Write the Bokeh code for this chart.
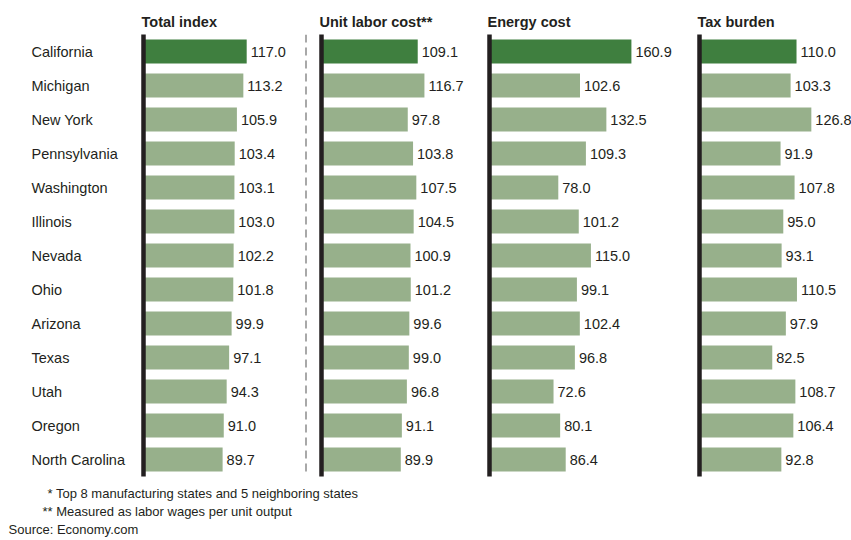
from bokeh.plotting import figure
from bokeh.models import Range1d, FactorRange, ColumnDataSource, Span
from bokeh.layouts import row, column
from bokeh.core.properties import value
from bokeh.embed import file_html
from bokeh.resources import INLINE

# ---------------- data ----------------
states = ["California", "Michigan", "New York", "Pennsylvania", "Washington",
          "Illinois", "Nevada", "Ohio", "Arizona", "Texas", "Utah", "Oregon",
          "North Carolina"]
total_index = [117.0, 113.2, 105.9, 103.4, 103.1, 103.0, 102.2, 101.8, 99.9, 97.1, 94.3, 91.0, 89.7]
unit_labor_cost = [109.1, 116.7, 97.8, 103.8, 107.5, 104.5, 100.9, 101.2, 99.6, 99.0, 96.8, 91.1, 89.9]
energy_cost = [160.9, 102.6, 132.5, 109.3, 78.0, 101.2, 115.0, 99.1, 102.4, 96.8, 72.6, 80.1, 86.4]
tax_burden = [110.0, 103.3, 126.8, 91.9, 107.8, 95.0, 93.1, 110.5, 97.9, 82.5, 108.7, 106.4, 92.8]
panel_titles = ["Total index", "Unit labor cost**", "Energy cost", "Tax burden"]
highlight_state = "California"
footnotes = ["* Top 8 manufacturing states and 5 neighboring states",
             "** Measured as labor wages per unit output",
             "Source: Economy.com"]

# ---------------- style / layout ----------------
FONT = "Liberation Sans"
INK = "#231f20"
DARK = "#3f7f3f"
LIGHT = "#97b08b"
PX_PER_UNIT = 0.882
TOP, ROW_H, BOTTOM = 34, 34, 4
PANEL_H = TOP + ROW_H * len(states) + BOTTOM
PAD_L = 10          # pixels of frame to the left of each panel's baseline
LABEL_W = 133
LABEL_INDENT = 31
SEP_W = 11
PANEL_W = [167, 168, 210, 162]

y_range = FactorRange(factors=list(reversed(states)), range_padding=0)


def base(width, height, x_range, yr, **kw):
    p = figure(width=width, height=height, x_range=x_range, y_range=yr,
               output_backend="svg", toolbar_location=None,
               x_axis_location=None, y_axis_location=None, **kw)
    p.grid.visible = False
    p.outline_line_color = None
    p.background_fill_color = "white"
    p.border_fill_color = "white"
    return p


# state names column
lab = base(LABEL_W, PANEL_H, Range1d(-LABEL_INDENT, LABEL_W - LABEL_INDENT), y_range,
           min_border_left=0, min_border_right=0,
           min_border_top=TOP, min_border_bottom=BOTTOM)
lab.text(x=0, y=states, text=states, text_align="left", text_baseline="middle",
         text_font=value(FONT), text_font_size="14.5px", text_color=INK)


def make_panel(title, vals, width):
    x0 = -PAD_L / PX_PER_UNIT
    p = base(width, PANEL_H, Range1d(x0, x0 + width / PX_PER_UNIT), y_range,
             min_border_left=0, min_border_right=0,
             min_border_top=TOP, min_border_bottom=BOTTOM, title=title)
    src = ColumnDataSource(dict(
        state=states, val=vals, label=[f"{v:.1f}" for v in vals],
        color=[DARK if s == highlight_state else LIGHT for s in states]))
    p.hbar(y="state", left=0, right="val", height=0.706, fill_color="color",
           line_color=None, source=src)
    p.text(x="val", y="state", text="label", x_offset=4, text_align="left",
           text_baseline="middle", text_font=value(FONT), text_font_size="14.5px",
           text_color=INK, source=src)
    p.add_layout(Span(location=0, dimension="height", line_color=INK,
                      line_width=4.5, line_cap="round"))
    p.title.text_font = FONT
    p.title.text_font_size = "14.5px"
    p.title.text_font_style = "bold"
    p.title.text_color = INK
    p.title.align = "left"
    p.title.offset = PAD_L - 2
    p.title.standoff = 10
    return p


p1 = make_panel(panel_titles[0], total_index, PANEL_W[0])
p2 = make_panel(panel_titles[1], unit_labor_cost, PANEL_W[1])
p3 = make_panel(panel_titles[2], energy_cost, PANEL_W[2])
p4 = make_panel(panel_titles[3], tax_burden, PANEL_W[3])

# dashed separator
sep = base(SEP_W, PANEL_H, Range1d(0, 1), Range1d(0, 1),
           min_border_left=0, min_border_right=0, min_border_top=15, min_border_bottom=2)
sep.add_layout(Span(location=0.5, dimension="height", line_color="#a8a8a8",
                    line_width=2, line_dash="8 5"))

# footnotes
total_w = LABEL_W + SEP_W + sum(PANEL_W)
FOOT_H = 540 - PANEL_H
foot = base(total_w, FOOT_H, Range1d(0, total_w), Range1d(FOOT_H, 0), min_border=0)
foot.text(x=[47, 42, 8], y=[13, 31, 49], text=footnotes, text_align="left",
          text_baseline="middle", text_font=value(FONT), text_font_size="13px",
          text_color=INK)

layout = column(row(lab, p1, sep, p2, p3, p4), foot)

with open("out.html", "w") as f:
    f.write(file_html(layout, INLINE))
